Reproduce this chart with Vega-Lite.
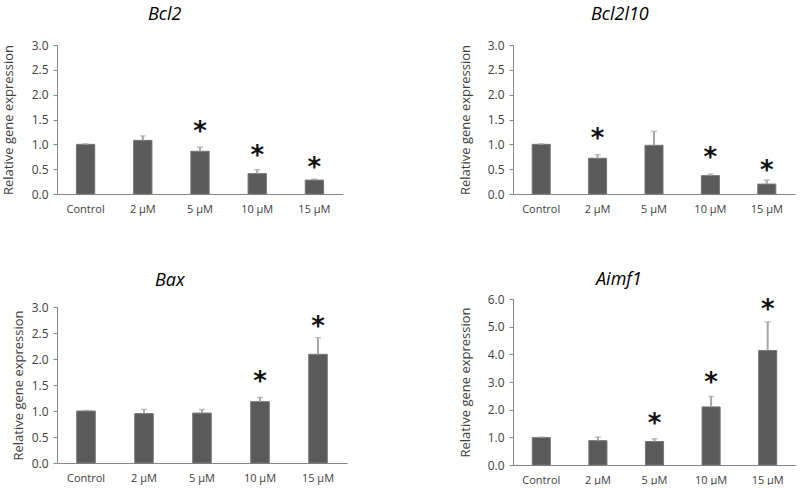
{
  "$schema": "https://vega.github.io/schema/vega-lite/v6.json",
  "padding": {"left": 2, "top": 6, "right": 0, "bottom": 0},
  "background": "white",
  "datasets": {
    "bcl2": [
      {"conc": "Control", "value": 1.0, "upper": 1.01, "star": null},
      {"conc": "2 µM", "value": 1.08, "upper": 1.17, "star": null},
      {"conc": "5 µM", "value": 0.86, "upper": 0.94, "star": 1.36},
      {"conc": "10 µM", "value": 0.41, "upper": 0.49, "star": 0.88},
      {"conc": "15 µM", "value": 0.28, "upper": 0.30, "star": 0.64}
    ],
    "bcl2l10": [
      {"conc": "Control", "value": 1.0, "upper": 1.01, "star": null},
      {"conc": "2 µM", "value": 0.72, "upper": 0.79, "star": 1.23},
      {"conc": "5 µM", "value": 0.98, "upper": 1.26, "star": null},
      {"conc": "10 µM", "value": 0.37, "upper": 0.40, "star": 0.84},
      {"conc": "15 µM", "value": 0.20, "upper": 0.28, "star": 0.59}
    ],
    "bax": [
      {"conc": "Control", "value": 1.0, "upper": 1.01, "star": null},
      {"conc": "2 µM", "value": 0.95, "upper": 1.03, "star": null},
      {"conc": "5 µM", "value": 0.96, "upper": 1.03, "star": null},
      {"conc": "10 µM", "value": 1.18, "upper": 1.26, "star": 1.67},
      {"conc": "15 µM", "value": 2.09, "upper": 2.41, "star": 2.74}
    ],
    "aimf1": [
      {"conc": "Control", "value": 0.99, "upper": 1.01, "star": null},
      {"conc": "2 µM", "value": 0.88, "upper": 1.01, "star": null},
      {"conc": "5 µM", "value": 0.85, "upper": 0.95, "star": 1.70},
      {"conc": "10 µM", "value": 2.10, "upper": 2.48, "star": 3.17},
      {"conc": "15 µM", "value": 4.14, "upper": 5.17, "star": 5.83}
    ]
  },
  "spacing": 112,
  "hconcat": [
    {
      "concat": [
        {
          "title": {"text": "Bcl2", "offset": 15, "frame": "group", "anchor": "start", "dx": 91},
          "width": 286, "height": 149,
          "data": {"name": "bcl2"},
          "encoding": {"x": {"field": "conc", "type": "nominal", "sort": null, "scale": {"paddingInner": 0.68, "paddingOuter": 0.34}}},
          "layer": [
            {"mark": {"type": "bar", "color": "#5a5a5a", "stroke": "#767676", "strokeWidth": 1},
             "encoding": {"y": {"field": "value", "type": "quantitative", "title": "Relative gene expression", "scale": {"domain": [0, 3]}, "axis": {"values": [0, 0.5, 1, 1.5, 2, 2.5, 3], "format": ".1f", "titlePadding": 16}}}},
            {"mark": {"type": "rule", "color": "#a6a6a6", "strokeWidth": 2},
             "encoding": {"y": {"field": "value", "type": "quantitative", "title": "Relative gene expression", "axis": {"values": [0, 0.5, 1, 1.5, 2, 2.5, 3], "format": ".1f", "titlePadding": 16}}, "y2": {"field": "upper"}}},
            {"mark": {"type": "tick", "color": "#a6a6a6", "thickness": 1.5, "size": 6},
             "encoding": {"y": {"field": "upper", "type": "quantitative", "title": "Relative gene expression", "axis": {"values": [0, 0.5, 1, 1.5, 2, 2.5, 3], "format": ".1f", "titlePadding": 16}}}},
            {"mark": {"type": "text", "text": "*", "fontSize": 26, "fontWeight": "bold", "font": "DejaVu Sans", "baseline": "middle", "dy": 6, "color": "#111111"},
             "encoding": {"y": {"field": "star", "type": "quantitative", "title": "Relative gene expression", "axis": {"values": [0, 0.5, 1, 1.5, 2, 2.5, 3], "format": ".1f", "titlePadding": 16}}}}
          ]
        },
        {
          "title": {"text": "Bax", "offset": 11, "frame": "group", "anchor": "start", "dx": 98},
          "width": 290, "height": 156,
          "data": {"name": "bax"},
          "encoding": {"x": {"field": "conc", "type": "nominal", "sort": null, "scale": {"paddingInner": 0.68, "paddingOuter": 0.34}}},
          "layer": [
            {"mark": {"type": "bar", "color": "#5a5a5a", "stroke": "#767676", "strokeWidth": 1},
             "encoding": {"y": {"field": "value", "type": "quantitative", "title": "Relative gene expression", "scale": {"domain": [0, 3]}, "axis": {"values": [0, 0.5, 1, 1.5, 2, 2.5, 3], "format": ".1f", "titlePadding": 6}}}},
            {"mark": {"type": "rule", "color": "#a6a6a6", "strokeWidth": 2},
             "encoding": {"y": {"field": "value", "type": "quantitative", "title": "Relative gene expression", "axis": {"values": [0, 0.5, 1, 1.5, 2, 2.5, 3], "format": ".1f", "titlePadding": 6}}, "y2": {"field": "upper"}}},
            {"mark": {"type": "tick", "color": "#a6a6a6", "thickness": 1.5, "size": 6},
             "encoding": {"y": {"field": "upper", "type": "quantitative", "title": "Relative gene expression", "axis": {"values": [0, 0.5, 1, 1.5, 2, 2.5, 3], "format": ".1f", "titlePadding": 6}}}},
            {"mark": {"type": "text", "text": "*", "fontSize": 26, "fontWeight": "bold", "font": "DejaVu Sans", "baseline": "middle", "dy": 6, "color": "#111111"},
             "encoding": {"y": {"field": "star", "type": "quantitative", "title": "Relative gene expression", "axis": {"values": [0, 0.5, 1, 1.5, 2, 2.5, 3], "format": ".1f", "titlePadding": 6}}}}
          ]
        }
      ],
      "columns": 1,
      "align": "none",
      "spacing": 58
    },
    {
      "concat": [
        {
          "title": {"text": "Bcl2l10", "offset": 15, "frame": "group", "anchor": "start", "dx": 78},
          "width": 282, "height": 149,
          "data": {"name": "bcl2l10"},
          "encoding": {"x": {"field": "conc", "type": "nominal", "sort": null, "scale": {"paddingInner": 0.68, "paddingOuter": 0.34}}},
          "layer": [
            {"mark": {"type": "bar", "color": "#5a5a5a", "stroke": "#767676", "strokeWidth": 1},
             "encoding": {"y": {"field": "value", "type": "quantitative", "title": "Relative gene expression", "scale": {"domain": [0, 3]}, "axis": {"values": [0, 0.5, 1, 1.5, 2, 2.5, 3], "format": ".1f"}}}},
            {"mark": {"type": "rule", "color": "#a6a6a6", "strokeWidth": 2},
             "encoding": {"y": {"field": "value", "type": "quantitative", "title": "Relative gene expression", "axis": {"values": [0, 0.5, 1, 1.5, 2, 2.5, 3], "format": ".1f"}}, "y2": {"field": "upper"}}},
            {"mark": {"type": "tick", "color": "#a6a6a6", "thickness": 1.5, "size": 6},
             "encoding": {"y": {"field": "upper", "type": "quantitative", "title": "Relative gene expression", "axis": {"values": [0, 0.5, 1, 1.5, 2, 2.5, 3], "format": ".1f"}}}},
            {"mark": {"type": "text", "text": "*", "fontSize": 26, "fontWeight": "bold", "font": "DejaVu Sans", "baseline": "middle", "dy": 6, "color": "#111111"},
             "encoding": {"y": {"field": "star", "type": "quantitative", "title": "Relative gene expression", "axis": {"values": [0, 0.5, 1, 1.5, 2, 2.5, 3], "format": ".1f"}}}}
          ]
        },
        {
          "title": {"text": "Aimf1", "offset": 4, "frame": "group", "anchor": "start", "dx": 83},
          "width": 283, "height": 166,
          "data": {"name": "aimf1"},
          "encoding": {"x": {"field": "conc", "type": "nominal", "sort": null, "scale": {"paddingInner": 0.68, "paddingOuter": 0.34}}},
          "layer": [
            {"mark": {"type": "bar", "color": "#5a5a5a", "stroke": "#767676", "strokeWidth": 1},
             "encoding": {"y": {"field": "value", "type": "quantitative", "title": "Relative gene expression", "scale": {"domain": [0, 6]}, "axis": {"values": [0, 1, 2, 3, 4, 5, 6], "format": ".1f"}}}},
            {"mark": {"type": "rule", "color": "#a6a6a6", "strokeWidth": 2},
             "encoding": {"y": {"field": "value", "type": "quantitative", "title": "Relative gene expression", "axis": {"values": [0, 1, 2, 3, 4, 5, 6], "format": ".1f"}}, "y2": {"field": "upper"}}},
            {"mark": {"type": "tick", "color": "#a6a6a6", "thickness": 1.5, "size": 6},
             "encoding": {"y": {"field": "upper", "type": "quantitative", "title": "Relative gene expression", "axis": {"values": [0, 1, 2, 3, 4, 5, 6], "format": ".1f"}}}},
            {"mark": {"type": "text", "text": "*", "fontSize": 26, "fontWeight": "bold", "font": "DejaVu Sans", "baseline": "middle", "dy": 6, "color": "#111111"},
             "encoding": {"y": {"field": "star", "type": "quantitative", "title": "Relative gene expression", "axis": {"values": [0, 1, 2, 3, 4, 5, 6], "format": ".1f"}}}}
          ]
        }
      ],
      "columns": 1,
      "align": "none",
      "spacing": 57
    }
  ],
  "config": {
    "font": "Open Sans",
    "view": {"stroke": null},
    "title": {"fontSize": 18, "fontStyle": "italic", "fontWeight": "normal", "color": "#000000", "font": "Open Sans"},
    "axisX": {"labelAngle": 0, "domainColor": "#868686", "domainWidth": 1, "ticks": false, "title": null, "labelFontSize": 11, "labelColor": "#404040", "labelPadding": 9},
    "axisY": {"domainColor": "#868686", "domainWidth": 1, "tickColor": "#868686", "tickSize": 4, "grid": false, "labelFontSize": 12, "labelColor": "#404040", "labelPadding": 5, "titleFontSize": 13, "titleFontWeight": "normal", "titleColor": "#404040", "titlePadding": 15, "labelOverlap": false}
  }
}
